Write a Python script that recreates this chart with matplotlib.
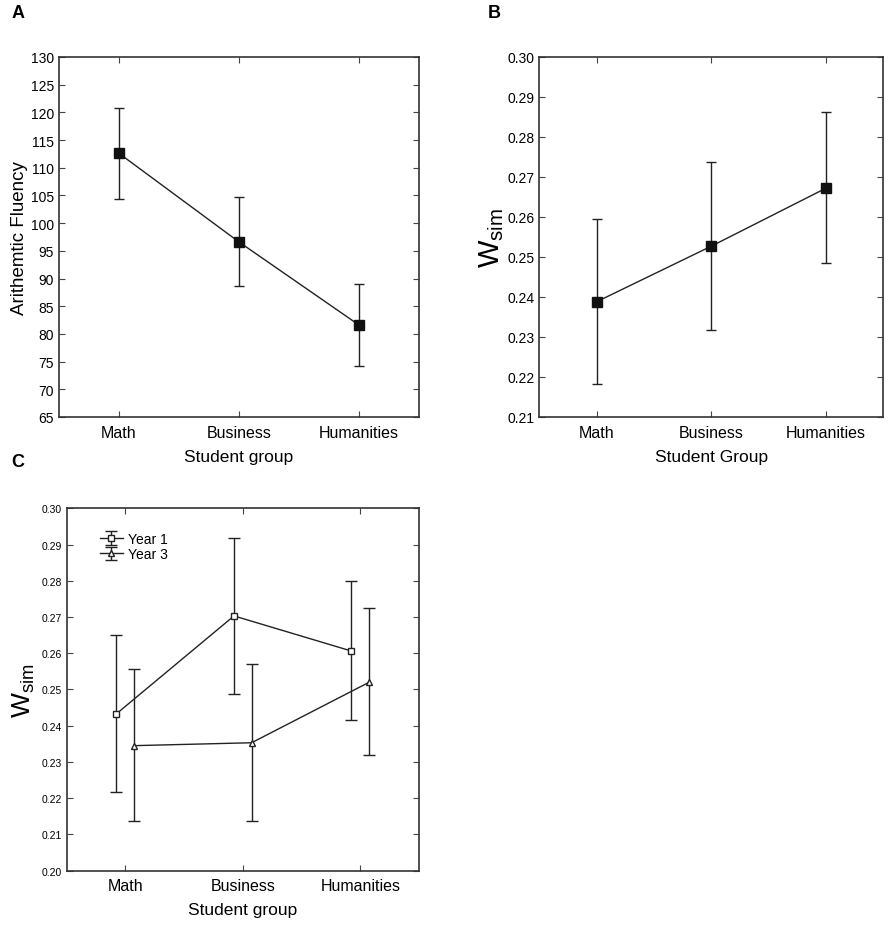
import matplotlib
matplotlib.use('Agg')
import matplotlib.pyplot as plt
import numpy as np

plt.rcParams['font.family'] = ['Liberation Sans', 'DejaVu Sans']

groups = ['Math', 'Business', 'Humanities']

# Panel A: arithmetic fluency (mean, lower, upper)
fluency_mean = [112.6, 96.6, 81.6]
fluency_low = [104.4, 88.6, 74.2]
fluency_high = [120.8, 104.8, 89.0]

# Panel B: w_sim by group
wsim_mean = [0.2388, 0.2527, 0.2672]
wsim_low = [0.2182, 0.2318, 0.2484]
wsim_high = [0.2595, 0.2738, 0.2862]

# Panel C: w_sim by group and year
y1_mean = [0.2433, 0.2703, 0.2606]
y1_low = [0.2218, 0.2488, 0.2417]
y1_high = [0.2649, 0.2918, 0.2800]
y3_mean = [0.2345, 0.2353, 0.2520]
y3_low = [0.2138, 0.2138, 0.2320]
y3_high = [0.2556, 0.2570, 0.2725]

fig = plt.figure(figsize=(8.92, 9.29), dpi=100)
axA = fig.add_axes([0.0661, 0.5501, 0.4036, 0.3875])
axB = fig.add_axes([0.6046, 0.5501, 0.3857, 0.3875])
axC = fig.add_axes([0.0746, 0.0617, 0.3952, 0.3901])

x = np.arange(len(groups))
col = '#222222'


def style(ax, ytick_size):
    ax.set_xlim(-0.5, 2.5)
    ax.set_xticks(x)
    ax.set_xticklabels(groups, fontsize=11.5)
    ax.tick_params(direction='in', top=True, right=True, length=4,
                   width=0.8, color='#444444')
    ax.tick_params(axis='x', pad=5.5)
    ax.tick_params(axis='y', labelsize=ytick_size)
    for s in ax.spines.values():
        s.set_linewidth(1.2)
        s.set_color('#333333')


def err(m, lo, hi):
    m = np.array(m)
    return [m - np.array(lo), np.array(hi) - m]


# A
axA.errorbar(x, fluency_mean, yerr=err(fluency_mean, fluency_low, fluency_high),
             color=col, lw=1, marker='s', ms=7, mfc='#111111', mec='#111111',
             capsize=3.8, elinewidth=1, capthick=1)
axA.set_ylim(65, 130)
axA.set_yticks(np.arange(65, 131, 5))
style(axA, 10)
axA.set_ylabel('Arithemtic Fluency', fontsize=13.5, labelpad=2)
axA.set_xlabel('Student group', fontsize=12.5, labelpad=7)

# B
axB.errorbar(x, wsim_mean, yerr=err(wsim_mean, wsim_low, wsim_high),
             color=col, lw=1, marker='s', ms=7, mfc='#111111', mec='#111111',
             capsize=3.8, elinewidth=1, capthick=1)
axB.set_ylim(0.21, 0.30)
bt = np.arange(0.21, 0.3001, 0.01)
axB.set_yticks(bt)
axB.set_yticklabels([f'{v:.2f}' for v in bt])
style(axB, 10)
axB.set_ylabel(r'$\mathregular{W_{sim}}$', fontsize=21, labelpad=1)
axB.set_xlabel('Student Group', fontsize=12.5, labelpad=7)

# C
off = 0.075
axC.errorbar(x - off, y1_mean, yerr=err(y1_mean, y1_low, y1_high),
             color=col, lw=1, marker='s', ms=4.8, mfc='white', mec=col,
             mew=1, capsize=4.3, elinewidth=1, capthick=1, label='Year 1')
axC.errorbar(x + off, y3_mean, yerr=err(y3_mean, y3_low, y3_high),
             color=col, lw=1, marker='^', ms=5, mfc='white', mec=col,
             mew=1, capsize=4.3, elinewidth=1, capthick=1, label='Year 3')
axC.set_ylim(0.20, 0.30)
ct = np.arange(0.20, 0.3001, 0.01)
axC.set_yticks(ct)
axC.set_yticklabels([f'{v:.2f}' for v in ct])
style(axC, 7.5)
axC.set_ylabel(r'$\mathregular{W_{sim}}$', fontsize=19, labelpad=3)
axC.set_xlabel('Student group', fontsize=12.5, labelpad=6)
axC.legend(loc='upper left', bbox_to_anchor=(0.08, 0.95), frameon=False,
           fontsize=10, handlelength=1.6, handletextpad=0.4,
           borderaxespad=0, labelspacing=0.1)

fig.text(18 / 892, 1 - 14 / 929, 'A', fontsize=13, fontweight='bold',
         ha='center', va='center')
fig.text(494 / 892, 1 - 14 / 929, 'B', fontsize=13, fontweight='bold',
         ha='center', va='center')
fig.text(18 / 892, 1 - 463 / 929, 'C', fontsize=13, fontweight='bold',
         ha='center', va='center')

fig.savefig('out.png', dpi=100)
